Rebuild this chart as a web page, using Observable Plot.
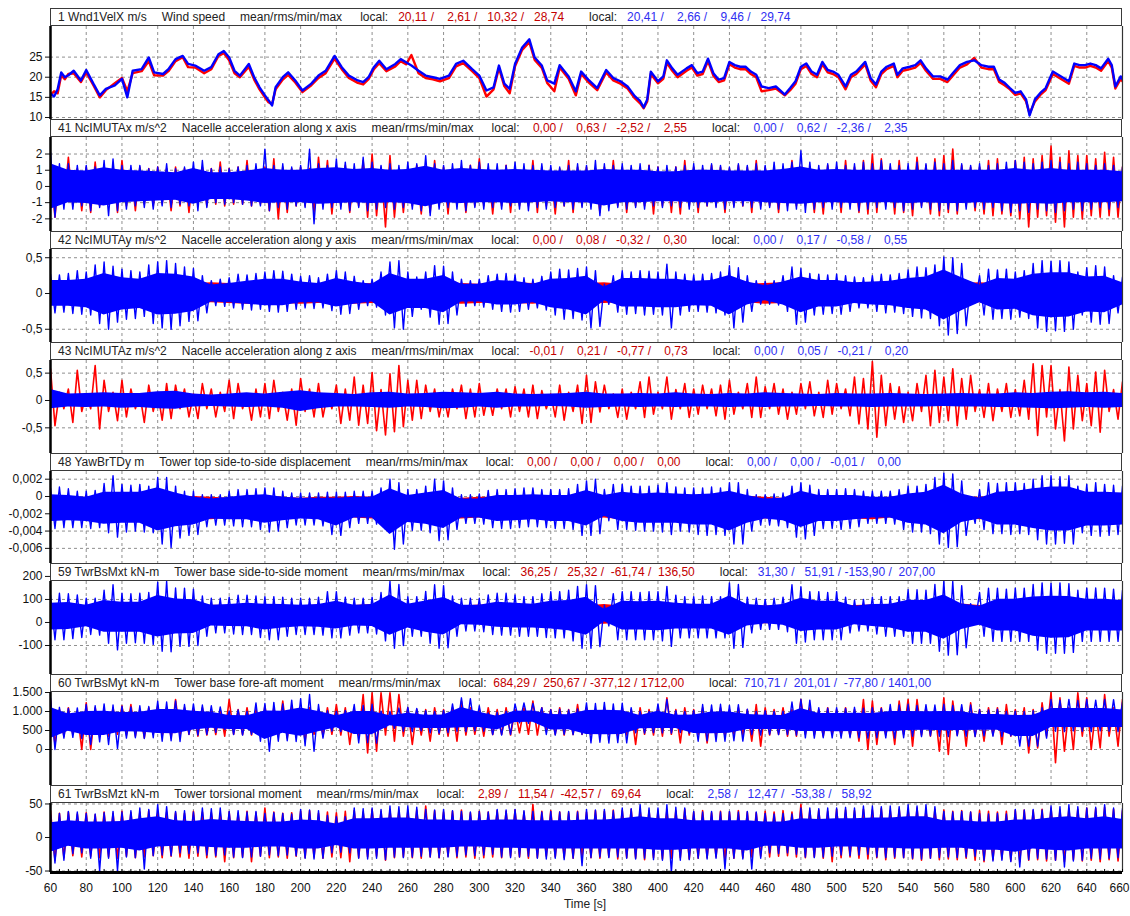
<!DOCTYPE html>
<html>
<head>
<meta charset="utf-8">
<script src="https://cdn.jsdelivr.net/npm/d3@7"></script>
<script src="https://cdn.jsdelivr.net/npm/@observablehq/plot@0.6"></script>
<style>
  html, body { margin: 0; padding: 0; background: #fff; }
  #root { position: relative; width: 1130px; height: 916px; overflow: hidden;
          font-family: "Liberation Sans", Arial, sans-serif; }
  .panel { position: absolute; left: 0; }
  .hdr { position: absolute; left: 50px; width: 1072px; height: 18px; box-sizing: border-box;
         border: 1px solid #3a3a3a; background: #fff; font-size: 12px; line-height: 16px;
         white-space: pre; color: #222; padding-left: 7px; z-index: 5; }
  .hdr .r { color: #c40000; }
  .hdr .b { color: #2e2ef2; }
  #xlabel { position: absolute; top: 897px; left: 0; width: 1170px; text-align: center;
            font-size: 12px; color: #222; }
</style>
</head>
<body>
<div id="root"></div>
<script>
// ---------------- header texts ----------------
const chanNames = ["1 Wnd1VelX m/s", "41 NcIMUTAx m/s^2", "42 NcIMUTAy m/s^2", "43 NcIMUTAz m/s^2",
  "48 YawBrTDy m", "59 TwrBsMxt kN-m", "60 TwrBsMyt kN-m", "61 TwrBsMzt kN-m"];
const chanDescs = ["Wind speed", "Nacelle acceleration along x axis", "Nacelle acceleration along y axis",
  "Nacelle acceleration along z axis", "Tower top side-to-side displacement", "Tower base side-to-side moment",
  "Tower base fore-aft moment", "Tower torsional moment"];
const redStats = [["20,11","2,61","10,32","28,74"], ["0,00","0,63","-2,52","2,55"], ["0,00","0,08","-0,32","0,30"],
  ["-0,01","0,21","-0,77","0,73"], ["0,00","0,00","0,00","0,00"], ["36,25","25,32","-61,74","136,50"],
  ["684,29","250,67","-377,12","1712,00"], ["2,89","11,54","-42,57","69,64"]];
const blueStats = [["20,41","2,66","9,46","29,74"], ["0,00","0,62","-2,36","2,35"], ["0,00","0,17","-0,58","0,55"],
  ["0,00","0,05","-0,21","0,20"], ["0,00","0,00","-0,01","0,00"], ["31,30","51,91","-153,90","207,00"],
  ["710,71","201,01","-77,80","1401,00"], ["2,58","12,47","-53,38","58,92"]];

// ---------------- axis ticks ----------------
const xTicks = [60,80,100,120,140,160,180,200,220,240,260,280,300,320,340,360,380,400,420,440,460,480,500,520,540,560,580,600,620,640,660];
const xGrid = [80,100,120,140,160,180,200,220,240,260,280,300,320,340,360,380,400,420,440,460,480,500,520,540,560,580,600,620,640];
const yTicks = [[10,15,20,25], [-2,-1,0,1,2], [-0.5,0,0.5], [-0.5,0,0.5], [-0.006,-0.004,-0.002,0,0.002],
  [-100,0,100,200], [0,500,1000,1500], [-50,0,50]];
const yTickLabels = [["10","15","20","25"], ["-2","-1","0","1","2"], ["-0,5","0","0,5"], ["-0,5","0","0,5"],
  ["-0,006","-0,004","-0,002","0","0,002"], ["-100","0","100","200"], ["0","500","1.000","1.500"], ["-50","0","50"]];

// ---------------- 1: wind speed (time, blue, red) ----------------
const windT = [60,62,64,66,68,70,73,77,80,84,
 87.6,91,96,100,103,106,111,115,118,123,
 126,130,134,137,141,146,150,154,157,160,
 163,166,171,174,177,180,182,184,186,190,
 193,197,201,206,210,214,219,223,227,232,
 235,238,241,244,248,253,256,259,262,266,
 270,274,278,283,287,291,296,300,304,308,
 311,314,317,320,324,328,331,335,338,342,
 345,350,354,357,361,366,371,375,379,383,
 387,390,392,394,396,400,403,405,408,411,
 416,419,422,425,428,431,434,437,440,443,
 446,449,452,455,458,462,466,471,474,477,
 480,483,486,489,492,495,498,501,505,508,
 511,516,519,522,525,528,532,534,537,541,
 544,547,550,554,558,562,565,569,573,577,
 581,585,588,591,594,597,600,603,606,608,
 611,614,617,621,624,627,630,633,636,639,
 642,645,648,652,654,656,659,660];
const windBlue = [16,15.2,17,21.2,20,20.5,21.6,19.2,21.8,18.4,
 15.5,17.1,18,19.6,15,21.6,22,24.9,21.2,20.8,
 22,24.5,25.3,23.3,22.9,21.6,22.5,25.7,26.5,24.9,
 21.6,20.4,23.3,20,17.5,15.5,14.3,13,17.5,20,
 21.2,19.2,16.7,18.4,20.4,21.6,25.3,22.5,20.4,19.2,
 18.8,20,22.5,24.1,22,23.3,24.5,23.7,22.9,21.6,
 20.4,20,19.6,20.4,23.3,24.1,22,20.4,16.7,17.5,
 22.9,18.4,17.1,23.3,27.4,29.4,24.9,22.9,19.2,18.4,
 23,20.2,16.5,21.4,19.4,17.3,21.8,19.8,19,17.7,
 15.3,14.1,12.5,14.5,21.4,19,20.2,24.2,22.2,20.6,
 22.2,23,21,21.4,24.6,21,19.4,19.8,23.8,23,
 22.6,22.6,21.4,20.6,17.7,17.3,17.7,15.7,17.3,19,
 22.6,23.4,21.4,20.6,23.8,21.8,21.4,20.6,17.7,20.6,
 21.4,23.8,19.8,18.2,21.4,22.6,23.4,20.6,22.2,22.6,
 23,24.2,22.2,20.2,20.2,19.4,21,23,23.8,24.2,
 23,22.6,22.6,19.4,18.6,17.3,16.1,16.5,14.5,10.5,
 14.5,16.1,17.3,21.4,20.6,19.8,19,23.4,23,23,
 23.4,23,22.2,24.6,23,17.7,20.2,19.5];
const windRed = [15.5,16.5,16,20.5,19.5,20.8,21,18.8,21.2,18,
 15,16.8,18.5,19.8,16.5,21,21.5,24,20.5,20.4,
 21.5,24,25,22.5,22.4,21,22,25.3,26,24.2,
 21,20,22.6,19.4,17,15,13.8,13.3,17,19.4,
 20.6,18.7,16.3,18,19.8,21,24.6,22,19.8,18.6,
 18.2,19.5,22,23.5,21.5,22.7,24,23.2,25.5,21,
 19.8,19.5,19,19.8,22.7,23.5,21.5,19.8,15.2,17,
 22.3,17.8,16,22.7,26.8,28.7,24.3,22.3,18.6,16.5,
 22.4,19.6,15.5,20.8,18.8,16.8,21.2,19.2,18.4,17.2,
 14.8,13.5,12.3,14,20.8,18.5,19.6,23.6,21.6,20,
 21.6,22.4,20.4,20.8,24,20.4,18.8,19.2,23.2,22.4,
 22,22,20.8,20,16.5,16.8,17.2,15.5,16.8,18.4,
 22,22.8,20.8,20,23.2,21.2,20.8,20,17,20,
 20.8,23.2,19.2,17.5,20.8,22,22.8,20,21.6,22,
 22.4,23.6,21.6,19.6,19.6,18.8,20.4,22.4,23.2,24.8,
 22.4,22,22,18.8,18,17,15.6,16,14,11,
 14,15.6,16.8,20.8,20,19.2,18.4,22.8,22.4,22.4,
 22.8,22.4,21.6,24,22.4,17.2,19.6,19];

// ---------------- 41: NcIMUTAx ----------------
// dense core (10 s) and spike tips (5 s: peak at t, trough at t+2.5)
const accxCoreHi = [1.4,1.0,0.95,1.15,1.0,0.95,0.9,0.85,1.1,0.85, 0.85,0.95,1.1,1.0,1.0,1.1,1.15,1.05,1.1,1.0,
 1.05,1.25,1.0,1.1,1.05,1.0,1.05,1.0,0.95,0.95, 0.95,1.05,1.0,1.0,0.9,0.9,1.0,1.0,0.95,0.95,
 0.95,1.05,1.2,1.0,1.05,1.0,1.0,1.0,1.0,1.0, 1.0,1.0,1.0,1.0,1.1,1.0,1.1,1.0,1.0,1.0, 0.9];
const accxCoreLo = [-1.4,-1.0,-1.05,-1.2,-1.0,-0.95,-0.9,-0.85,-1.1,-0.8, -0.8,-0.9,-1.05,-1.0,-1.0,-1.1,-1.05,-1.0,-1.05,-1.0,
 -1.05,-1.25,-1.0,-1.05,-1.0,-1.0,-1.05,-1.0,-0.95,-1.0, -1.0,-1.2,-1.0,-1.0,-0.95,-0.95,-1.0,-1.0,-0.95,-0.95,
 -1.0,-1.05,-1.1,-1.0,-1.0,-1.05,-1.0,-1.0,-1.05,-1.0, -1.05,-1.05,-1.0,-1.05,-1.1,-1.05,-1.1,-1.0,-1.0,-1.0, -0.95];
const accxBlueHi = [2.1,1.4,1.4,1.3,1.3,1.2,1.6,1.7,1.3,1.3, 1.3,1.1,1.2,1.4,1.1,1.2,1.5,1.6,1.1,1.2,
 1.1,1.2,1.3,1.4,2.3,1.3,1.4,1.2,1.3,2.3, 1.4,1.3,1.7,1.5,1.4,1.8,1.5,1.3,1.4,1.3,
 1.5,1.4,1.9,1.4,1.3,1.4,1.6,1.3,1.5,1.4, 1.4,1.3,1.5,1.4,1.3,1.4,1.3,1.2,1.3,1.4,
 1.3,1.6,1.4,1.3,1.4,1.3,1.4,1.3,1.2,1.3, 1.2,1.3,1.4,1.3,1.4,1.3,1.2,1.4,1.3,1.4,
 1.3,1.5,1.4,1.5,2.2,1.5,1.3,1.4,1.5,1.3, 1.4,1.5,1.4,1.6,1.4,1.3,1.4,1.5,1.4,1.5,
 1.4,1.6,1.4,1.3,1.4,1.3,1.4,1.5,1.6,1.5, 1.4,1.5,1.6,1.5,1.4,1.5,1.4,1.3,1.4,1.3, 1.2];
const accxBlueLo = [-1.9,-1.4,-1.4,-1.2,-1.5,-1.3,-1.8,-1.5,-1.4,-1.2, -1.3,-1.4,-1.2,-1.3,-1.1,-1.2,-1.5,-1.3,-1.0,-1.1,
 -1.0,-1.1,-1.2,-1.2,-1.5,-1.3,-1.4,-1.2,-1.3,-2.3, -1.4,-1.3,-1.4,-1.5,-1.3,-1.5,-1.4,-1.3,-1.4,-1.3,
 -1.4,-1.5,-1.8,-1.4,-1.3,-1.4,-1.5,-1.3,-1.4,-1.3, -1.4,-1.2,-1.4,-1.5,-1.3,-1.4,-1.3,-1.2,-1.4,-1.3,
 -1.4,-1.8,-1.5,-1.3,-1.4,-1.3,-1.4,-1.2,-1.3,-1.2, -1.3,-1.4,-1.3,-1.2,-1.3,-1.4,-1.3,-1.2,-1.3,-1.4,
 -1.3,-1.4,-1.5,-1.4,-1.6,-1.4,-1.3,-1.4,-1.3,-1.4, -1.5,-1.4,-1.3,-1.4,-1.3,-1.5,-1.4,-1.3,-1.4,-1.5,
 -1.4,-1.5,-1.4,-1.3,-1.4,-1.3,-1.5,-1.6,-1.5,-1.6, -1.4,-1.5,-1.6,-1.5,-1.4,-1.5,-1.4,-1.3,-1.4,-1.3, -1.3];
const accxRedHi = [1.2,1.1,1.8,1.1,1.2,1.5,1.1,1.2,1.6,1.1, 1.2,1.1,1.2,1.1,1.2,1.1,1.1,1.2,1.1,1.5,
 1.1,1.2,1.6,1.1,1.2,1.7,1.2,1.1,1.2,1.1, 1.8,1.6,1.2,1.3,1.1,1.6,2.0,1.2,1.9,1.1,
 1.1,1.3,1.2,1.6,1.2,1.1,1.2,1.3,1.7,1.1, 1.1,1.3,1.2,1.1,1.6,1.2,1.1,1.1,1.6,1.2,
 1.2,1.1,1.2,1.6,1.2,1.1,1.1,1.3,1.2,1.1, 1.2,1.6,1.2,1.1,1.3,1.2,1.1,1.3,1.2,1.6,
 1.2,1.1,1.2,1.6,1.2,1.1,1.1,1.3,1.2,1.6, 1.2,1.6,2.0,1.7,1.2,1.6,1.2,1.8,1.3,1.7,
 1.9,2.3,1.3,1.2,1.2,1.6,1.7,1.2,1.6,1.8, 1.7,1.9,2.5,1.8,2.2,1.9,1.9,1.7,2.1,1.8, 1.2];
const accxRedLo = [-1.9,-1.1,-1.2,-1.5,-1.6,-1.2,-1.1,-1.6,-1.2,-1.5, -1.1,-1.2,-1.1,-1.5,-1.2,-1.6,-1.1,-1.2,-1.1,-1.2,
 -1.1,-1.1,-1.2,-1.1,-1.5,-2.0,-1.6,-1.2,-1.2,-1.6, -1.2,-1.7,-1.2,-1.6,-1.2,-1.9,-1.8,-2.5,-1.9,-1.6,
 -1.2,-1.7,-1.6,-1.2,-1.7,-1.2,-1.6,-1.2,-1.2,-1.7, -1.2,-1.6,-1.2,-1.2,-1.6,-1.2,-1.7,-1.2,-1.6,-1.2,
 -1.2,-1.6,-1.2,-1.2,-1.6,-1.2,-1.2,-1.7,-1.2,-1.6, -1.7,-1.2,-1.6,-1.2,-1.2,-1.6,-1.2,-1.2,-1.6,-1.2,
 -1.2,-1.6,-1.2,-1.2,-1.2,-1.6,-1.7,-1.2,-1.6,-1.2, -1.6,-1.7,-1.6,-1.2,-1.7,-1.6,-1.8,-1.2,-1.7,-1.8,
 -1.6,-1.7,-1.2,-1.5,-1.7,-1.8,-1.7,-1.8,-2.0,-2.5, -1.9,-1.8,-2.2,-2.5,-1.9,-2.0,-1.8,-1.9,-1.8,-1.9, -1.8];

// ---------------- 42: NcIMUTAy ----------------
const accyCoreHi = [0.18,0.18,0.2,0.28,0.22,0.2,0.28,0.27,0.23,0.12, 0.14,0.17,0.2,0.2,0.16,0.14,0.21,0.16,0.13,0.28,
 0.2,0.2,0.25,0.13,0.13,0.18,0.17,0.13,0.2,0.21, 0.24,0.09,0.21,0.21,0.2,0.2,0.17,0.18,0.25,0.16,
 0.11,0.16,0.23,0.18,0.18,0.15,0.16,0.17,0.21,0.23, 0.33,0.22,0.12,0.21,0.2,0.27,0.29,0.29,0.23,0.24, 0.15];
const accyCoreLo = [-0.18,-0.18,-0.2,-0.3,-0.23,-0.21,-0.3,-0.29,-0.25,-0.12, -0.13,-0.15,-0.17,-0.17,-0.13,-0.13,-0.19,-0.15,-0.12,-0.3,
 -0.21,-0.21,-0.27,-0.12,-0.12,-0.16,-0.16,-0.13,-0.2,-0.23, -0.3,-0.1,-0.19,-0.19,-0.2,-0.2,-0.17,-0.18,-0.3,-0.16,
 -0.1,-0.16,-0.27,-0.19,-0.19,-0.14,-0.16,-0.17,-0.21,-0.23, -0.37,-0.24,-0.13,-0.23,-0.22,-0.31,-0.34,-0.33,-0.26,-0.27, -0.16];
const accyBlueHi = [0.27,0.26,0.28,0.32,0.3,0.4,0.44,0.38,0.34,0.32, 0.3,0.4,0.44,0.46,0.42,0.37,0.35,0.25,0.18,0.2,
 0.22,0.27,0.26,0.28,0.3,0.32,0.31,0.27,0.24,0.25, 0.22,0.27,0.32,0.3,0.24,0.18,0.2,0.3,0.44,0.46,
 0.3,0.23,0.3,0.39,0.38,0.3,0.2,0.18,0.2,0.25, 0.27,0.28,0.26,0.22,0.2,0.24,0.3,0.34,0.33,0.35,
 0.37,0.32,0.13,0.25,0.32,0.3,0.32,0.31,0.3,0.41, 0.3,0.27,0.26,0.27,0.28,0.3,0.39,0.36,0.25,0.18,
 0.17,0.18,0.25,0.37,0.35,0.28,0.27,0.26,0.27,0.25, 0.23,0.22,0.25,0.27,0.26,0.28,0.33,0.37,0.36,0.4,
 0.51,0.5,0.42,0.13,0.25,0.34,0.33,0.34,0.3,0.32, 0.42,0.46,0.45,0.46,0.44,0.3,0.36,0.39,0.37,0.25, 0.23];
const accyBlueLo = [-0.27,-0.26,-0.28,-0.29,-0.3,-0.42,-0.5,-0.4,-0.36,-0.35, -0.32,-0.42,-0.48,-0.5,-0.45,-0.39,-0.38,-0.27,-0.17,-0.18,
 -0.2,-0.22,-0.23,-0.22,-0.25,-0.26,-0.25,-0.22,-0.2,-0.21, -0.2,-0.24,-0.29,-0.28,-0.22,-0.17,-0.19,-0.3,-0.48,-0.5,
 -0.32,-0.22,-0.33,-0.43,-0.42,-0.3,-0.18,-0.17,-0.19,-0.22, -0.25,-0.26,-0.25,-0.22,-0.2,-0.23,-0.3,-0.36,-0.35,-0.37,
 -0.48,-0.46,-0.15,-0.26,-0.29,-0.28,-0.3,-0.29,-0.3,-0.48, -0.3,-0.25,-0.25,-0.26,-0.27,-0.3,-0.48,-0.4,-0.25,-0.15,
 -0.15,-0.16,-0.25,-0.43,-0.4,-0.3,-0.29,-0.28,-0.29,-0.25, -0.2,-0.2,-0.25,-0.27,-0.26,-0.28,-0.32,-0.34,-0.35,-0.45,
 -0.58,-0.56,-0.45,-0.13,-0.3,-0.36,-0.35,-0.36,-0.33,-0.35, -0.48,-0.53,-0.52,-0.53,-0.5,-0.3,-0.4,-0.43,-0.42,-0.27, -0.25];
const accyRedHi = [0.13,0.14,0.15,0.14,0.13,0.15,0.14,0.13,0.14,0.15, 0.14,0.13,0.15,0.14,0.13,0.14,0.15,0.13,0.14,0.15,
 0.13,0.14,0.15,0.14,0.13,0.14,0.15,0.14,0.13,0.15, 0.14,0.15,0.13,0.14,0.15,0.14,0.13,0.14,0.15,0.13,
 0.14,0.15,0.14,0.13,0.15,0.14,0.13,0.14,0.15,0.14, 0.13,0.14,0.15,0.14,0.13,0.15,0.14,0.13,0.14,0.15, 0.14];
const accyRedLo = [-0.13,-0.15,-0.14,-0.13,-0.15,-0.14,-0.13,-0.14,-0.15,-0.13, -0.14,-0.15,-0.13,-0.14,-0.15,-0.14,-0.13,-0.15,-0.14,-0.13,
 -0.15,-0.14,-0.13,-0.15,-0.14,-0.13,-0.14,-0.15,-0.13,-0.14, -0.15,-0.14,-0.13,-0.15,-0.14,-0.13,-0.14,-0.15,-0.14,-0.13,
 -0.15,-0.14,-0.13,-0.14,-0.15,-0.13,-0.14,-0.15,-0.14,-0.13, -0.14,-0.15,-0.13,-0.14,-0.15,-0.14,-0.13,-0.15,-0.14,-0.13, -0.14];

// ---------------- 43: NcIMUTAz ----------------
const acczBlueHi = [0.2,0.12,0.13,0.14,0.13,0.13,0.16,0.17,0.12,0.1, 0.12,0.14,0.12,0.15,0.18,0.14,0.13,0.11,0.14,0.15,
 0.12,0.13,0.15,0.14,0.13,0.15,0.12,0.11,0.12,0.13, 0.15,0.12,0.12,0.13,0.12,0.14,0.12,0.11,0.13,0.12,
 0.14,0.13,0.12,0.11,0.13,0.12,0.12,0.13,0.12,0.11, 0.12,0.13,0.12,0.12,0.14,0.13,0.15,0.16,0.14,0.15, 0.13];
const acczBlueLo = [-0.15,-0.12,-0.13,-0.12,-0.14,-0.13,-0.15,-0.16,-0.12,-0.11, -0.12,-0.13,-0.12,-0.14,-0.2,-0.15,-0.12,-0.12,-0.13,-0.14,
 -0.12,-0.13,-0.15,-0.14,-0.12,-0.14,-0.12,-0.12,-0.11,-0.12, -0.14,-0.13,-0.12,-0.13,-0.12,-0.13,-0.12,-0.12,-0.13,-0.12,
 -0.13,-0.12,-0.12,-0.11,-0.12,-0.12,-0.13,-0.12,-0.12,-0.12, -0.11,-0.12,-0.12,-0.13,-0.13,-0.14,-0.15,-0.14,-0.13,-0.14, -0.13];
const acczRedHi = [0.58,0.15,0.21,0.55,0.12,0.64,0.37,0.15,0.37,0.21, 0.12,0.28,0.15,0.31,0.28,0.21,0.12,0.31,0.21,0.15,
 0.37,0.31,0.12,0.21,0.31,0.37,0.15,0.21,0.4,0.21, 0.31,0.12,0.28,0.21,0.43,0.28,0.51,0.2,0.49,0.64,
 0.37,0.37,0.28,0.21,0.12,0.21,0.28,0.21,0.31,0.12, 0.21,0.21,0.25,0.21,0.28,0.18,0.12,0.28,0.15,0.28,
 0.46,0.34,0.28,0.12,0.21,0.15,0.34,0.43,0.15,0.43, 0.2,0.31,0.21,0.28,0.21,0.28,0.37,0.15,0.31,0.43,
 0.25,0.31,0.21,0.15,0.31,0.34,0.15,0.37,0.31,0.21, 0.43,0.4,0.71,0.46,0.31,0.25,0.15,0.31,0.46,0.55,
 0.43,0.58,0.4,0.46,0.2,0.31,0.21,0.31,0.2,0.37, 0.67,0.64,0.64,0.2,0.61,0.46,0.31,0.52,0.55,0.2, 0.34];
const acczRedLo = [-0.46,-0.15,-0.4,-0.2,-0.15,-0.52,-0.2,-0.37,-0.3,-0.15, -0.4,-0.2,-0.36,-0.33,-0.15,-0.3,-0.33,-0.15,-0.3,-0.2,
 -0.33,-0.15,-0.36,-0.3,-0.33,-0.2,-0.36,-0.45,-0.2,-0.3, -0.3,-0.15,-0.42,-0.36,-0.45,-0.42,-0.55,-0.63,-0.57,-0.48,
 -0.36,-0.33,-0.2,-0.3,-0.3,-0.15,-0.33,-0.3,-0.27,-0.27, -0.15,-0.3,-0.2,-0.3,-0.33,-0.15,-0.3,-0.36,-0.2,-0.42,
 -0.4,-0.21,-0.15,-0.31,-0.34,-0.15,-0.31,-0.25,-0.15,-0.34, -0.15,-0.31,-0.25,-0.15,-0.28,-0.34,-0.25,-0.15,-0.31,-0.31,
 -0.15,-0.25,-0.34,-0.25,-0.15,-0.28,-0.31,-0.25,-0.15,-0.28, -0.43,-0.52,-0.67,-0.46,-0.34,-0.4,-0.37,-0.2,-0.46,-0.4,
 -0.37,-0.46,-0.34,-0.2,-0.31,-0.37,-0.2,-0.31,-0.28,-0.34, -0.64,-0.3,-0.52,-0.74,-0.52,-0.37,-0.46,-0.58,-0.2,-0.34, -0.4];

// ---------------- 48: YawBrTDy ----------------
const dyCoreHi = [0.0002,0.0001,-0.0001,0.0005,0.0005,0.0005,0.001,0.0004,-0.0001,-0.0003, -0.0001,0.0001,0.0002,-0.0001,-0.0002,-0.0002,-0.0002,-0.0001,-0.0001,0.0009,
 0.0001,0.0004,0.0007,-0.0003,-0.0003,0.0001,0.0001,0.0002,0.0001,0.0001, 0.0007,0.0001,0.0005,0.0003,0.0004,0.0003,0.0002,0.0003,0.0006,0.0001,
 -0.0003,-0.0002,0.0006,0.0001,0.0001,0.0001,-0.0001,-0.0001,0.0003,0.0005, 0.0013,0.0003,-0.0002,0.0005,0.0006,0.0009,0.0011,0.0011,0.0005,0.0005, 0.0004];
const dyCoreLo = [-0.0029,-0.0028,-0.0029,-0.0032,-0.0031,-0.0031,-0.004,-0.0035,-0.0033,-0.0026, -0.0027,-0.0027,-0.0031,-0.0028,-0.0026,-0.0027,-0.0034,-0.0025,-0.0025,-0.0044,
 -0.003,-0.0032,-0.0037,-0.0025,-0.0025,-0.0029,-0.0028,-0.0027,-0.0029,-0.0029, -0.0034,-0.0023,-0.0029,-0.0031,-0.0031,-0.0031,-0.0033,-0.0033,-0.004,-0.0031,
 -0.0026,-0.0028,-0.0036,-0.0029,-0.0029,-0.0027,-0.0025,-0.0025,-0.0031,-0.0033, -0.0043,-0.003,-0.0026,-0.0033,-0.0033,-0.0037,-0.004,-0.004,-0.0034,-0.0034, -0.0033];
const dyBlueHi = [0.001,0.0011,0.0009,0.0006,0.0006,0.0007,0.0015,0.0024,0.0014,0.0013, 0.0014,0.0012,0.0022,0.0022,0.0012,0.0006,0.0006,0.0002,0.0002,0.0002,
 0.0006,0.0008,0.0008,0.0009,0.001,0.001,0.0006,0.0004,0.0004,0.0004, 0.0004,0.0005,0.0005,0.0005,0.0006,0.0006,0.0006,0.001,0.002,0.0016,
 0.0008,0.0008,0.0012,0.002,0.0018,0.001,0.0002,0.0002,0.0003,0.0007, 0.0008,0.0008,0.0009,0.001,0.001,0.0008,0.0008,0.0008,0.0009,0.0014,
 0.0018,0.002,0.0008,0.0014,0.0014,0.0012,0.0012,0.0012,0.0013,0.0016, 0.0011,0.001,0.001,0.001,0.0011,0.001,0.0016,0.0016,0.0008,0.0002,
 0.0002,0.0003,0.0004,0.0012,0.0016,0.0013,0.0008,0.0008,0.0008,0.0009, 0.0008,0.0006,0.0006,0.0006,0.0006,0.0008,0.0012,0.0012,0.0014,0.0022,
 0.0027,0.0026,0.0018,-0.0006,0.0008,0.0016,0.0015,0.0016,0.0016,0.0015, 0.002,0.0024,0.0024,0.0023,0.0024,0.0012,0.0014,0.0016,0.0014,0.0013, 0.0012];
const dyBlueLo = [-0.0037,-0.0036,-0.0036,-0.0036,-0.0037,-0.0036,-0.0042,-0.0047,-0.0041,-0.004, -0.0041,-0.0042,-0.0055,-0.0059,-0.0048,-0.0045,-0.0044,-0.0035,-0.0033,-0.0033,
 -0.0034,-0.0035,-0.0035,-0.0038,-0.0041,-0.004,-0.0036,-0.0033,-0.0033,-0.0033, -0.0034,-0.0044,-0.0045,-0.0036,-0.0031,-0.0031,-0.0032,-0.0038,-0.0061,-0.0055,
 -0.0039,-0.0039,-0.0042,-0.0051,-0.005,-0.0038,-0.0031,-0.0031,-0.0032,-0.0036, -0.0037,-0.0037,-0.0036,-0.0035,-0.0035,-0.0036,-0.0037,-0.0037,-0.0038,-0.0045,
 -0.0045,-0.0043,-0.0028,-0.0038,-0.0038,-0.0039,-0.004,-0.004,-0.0041,-0.0044, -0.004,-0.0041,-0.0044,-0.0045,-0.0044,-0.0045,-0.0055,-0.0055,-0.004,-0.0033,
 -0.0033,-0.0034,-0.0036,-0.0047,-0.0049,-0.0045,-0.0037,-0.0037,-0.0038,-0.0037, -0.0035,-0.0031,-0.0031,-0.0031,-0.0032,-0.0038,-0.0041,-0.0041,-0.0043,-0.0055,
 -0.0059,-0.0058,-0.0045,-0.0031,-0.0038,-0.0043,-0.0043,-0.0044,-0.0043,-0.0044, -0.005,-0.0055,-0.0055,-0.0054,-0.0055,-0.0042,-0.0045,-0.0046,-0.0045,-0.0044, -0.0044];
const dyRedHi = [-0.0001,-0.0002,-0.0001,0,-0.0001,-0.0002,-0.0001,-0.0001,0,-0.0001, -0.0002,-0.0001,0,-0.0001,-0.0002,-0.0001,-0.0001,0,-0.0001,-0.0002,
 -0.0001,0,-0.0001,-0.0002,-0.0001,-0.0001,0,-0.0001,-0.0002,-0.0001, 0,-0.0001,-0.0002,-0.0001,-0.0001,0,-0.0001,-0.0002,-0.0001,0,
 -0.0001,-0.0002,-0.0001,-0.0001,0,-0.0001,-0.0002,-0.0001,0,-0.0001, -0.0002,-0.0001,-0.0001,0,-0.0001,-0.0002,-0.0001,0,-0.0001,-0.0002, -0.0001];
const dyRedLo = [-0.0026,-0.0025,-0.0027,-0.0026,-0.0025,-0.0026,-0.0027,-0.0025,-0.0026,-0.0027, -0.0025,-0.0026,-0.0027,-0.0026,-0.0025,-0.0026,-0.0027,-0.0025,-0.0026,-0.0027,
 -0.0026,-0.0025,-0.0027,-0.0026,-0.0025,-0.0026,-0.0027,-0.0025,-0.0026,-0.0027, -0.0026,-0.0025,-0.0027,-0.0026,-0.0025,-0.0026,-0.0027,-0.0025,-0.0026,-0.0027,
 -0.0026,-0.0025,-0.0027,-0.0026,-0.0025,-0.0026,-0.0027,-0.0025,-0.0026,-0.0027, -0.0026,-0.0025,-0.0027,-0.0026,-0.0025,-0.0026,-0.0027,-0.0025,-0.0026,-0.0027, -0.0026];

// ---------------- 59: TwrBsMxt ----------------
const mxtCoreHi = [84,87,75,96,88,88,117,102,99,75, 78,83,79,78,75,78,92,75,78,119,
 79,93,108,75,75,88,84,79,92,96, 110,57,92,90,92,83,79,79,115,78,
 72,78,105,92,92,70,78,79,97,96, 119,80,70,101,101,111,114,113,101,101, 96];
const mxtCoreLo = [-33,-30,-19,-42,-42,-42,-63,-50,-48,-15, -18,-19,-33,-24,-19,-21,-28,-15,-18,-55,
 -24,-42,-54,-10,-12,-21,-24,-24,-28,-36, -55,3,-33,-33,-36,-28,-28,-28,-55,-15,
 -6,-12,-39,-33,-33,-10,-18,-24,-42,-42, -73,-30,-12,-37,-37,-60,-68,-66,-37,-37, -37];
const mxtBlueHi = [120,127,125,120,105,105,140,164,127,125, 127,130,175,179,150,149,145,115,105,105,
 110,119,119,115,112,112,110,105,105,105, 110,134,134,110,105,105,110,130,179,165,
 112,112,135,164,160,115,105,105,105,120, 127,127,120,112,112,125,134,134,140,157,
 164,160,75,125,134,134,130,134,134,157, 119,112,112,115,112,112,172,165,110,105,
 100,105,110,164,155,134,134,130,134,110, 97,100,110,112,112,112,142,142,140,165,
 179,178,160,82,130,149,149,145,149,149, 165,172,170,172,168,140,149,150,149,145, 140];
const mxtBlueLo = [-75,-75,-70,-65,-52,-55,-90,-119,-90,-88, -90,-95,-125,-127,-104,-104,-100,-60,-45,-45,
 -50,-52,-52,-65,-75,-75,-60,-52,-52,-52, -55,-67,-67,-55,-45,-45,-50,-80,-112,-100,
 -60,-60,-90,-112,-110,-60,-37,-37,-40,-52, -55,-55,-60,-60,-60,-65,-67,-67,-80,-112,
 -112,-105,-15,-75,-75,-75,-75,-75,-80,-104, -67,-67,-67,-67,-67,-67,-112,-108,-45,-30,
 -30,-30,-40,-90,-85,-75,-75,-75,-75,-45, -37,-37,-50,-60,-60,-60,-90,-90,-90,-125,
 -142,-140,-110,0,-60,-82,-82,-82,-82,-82, -120,-134,-134,-134,-130,-82,-82,-82,-82,-82, -82];
const mxtRedHi = [72,75,70,78,74,71,76,73,70,75, 74,71,77,73,72,76,70,74,78,73,
 71,75,73,70,76,74,72,75,71,77, 73,78,72,74,71,75,73,76,70,74,
 72,75,78,73,71,74,76,72,75,73, 71,80,74,72,75,73,71,76,74,72, 75];
const mxtRedLo = [-4,-2,-6,-3,0,-5,-2,-4,-6,-1, -3,-5,-2,-4,0,-6,-3,-1,-5,-2,
 -4,-6,-3,0,-5,-2,-4,-1,-6,-3, -5,-8,-2,-4,-6,-3,0,-5,-2,-4,
 -6,-3,-1,-5,-2,-4,-6,-3,0,-5, -2,-8,-4,-6,-3,-1,-5,-2,-4,-6, -3];

// ---------------- 60: TwrBsMyt ----------------
const mytCoreHi = [1104,936,998,1008,972,978,1051,1056,1008,978, 893,888,1014,1008,1092,998,888,998,1002,888,
 954,900,906,1104,978,876,1008,1014,918,912, 1025,1032,1020,894,1008,900,906,990,984,924,
 900,894,1078,948,948,954,948,998,1002,996, 1002,996,920,924,894,900,1078,1080,1078,1080, 1038];
const mytCoreLo = [288,480,367,367,468,462,419,414,516,558, 525,528,262,426,348,468,570,393,390,624,
 570,551,555,570,577,516,709,714,516,522, 393,390,393,546,551,555,419,414,426,525,
 528,525,472,474,468,472,474,468,498,504, 492,498,504,504,341,341,577,582,570,577, 577];
const mytBlueHi = [1360,1110,1080,1096,1184,1150,1200,1170,1140,1120, 1150,1130,1272,1250,1280,1184,1200,1170,1150,1120,
 1009,1040,1000,1228,1210,1240,1200,1300,1340,1447, 1184,1020,1000,1030,1184,1160,1190,1010,1000,1090,
 1110,1080,1020,1000,1030,1200,1360,1340,1150,960, 980,1010,1200,1228,1210,1100,1050,1060,1040,1070,
 1228,1210,1240,1200,1220,1100,1010,1000,1200,1316, 1020,1000,1030,1184,1170,1190,1160,1180,1060,1000,
 1020,1000,1010,1250,1316,1300,1100,1090,1100,1080, 1110,1090,1100,1080,1184,1170,1190,1160,1180,1170,
 1190,1160,1180,1170,1053,1040,1060,1000,1010,1000, 1020,1100,1316,1300,1320,1290,1316,1300,1320,1310, 1250];
const mytBlueLo = [0,300,320,290,132,200,132,30,300,310, 290,310,219,230,210,395,380,400,450,526,
 395,380,400,219,-44,219,230,210,100,-44, 300,482,470,490,175,180,170,570,560,482,
 470,490,439,430,445,482,470,490,482,395, 380,400,702,690,710,395,380,400,390,395,
 175,190,170,180,175,439,430,445,439,430, 445,430,219,230,210,219,230,220,395,380,
 400,390,395,380,307,300,310,307,300,310, 307,300,310,307,300,310,350,340,360,350,
 340,360,350,340,360,350,340,360,88,90, 88,300,482,470,490,482,470,490,482,470, 482];
const mytRedHi = [1300,1050,1100,1000,1228,1100,1050,1100,1150,1184, 1050,1100,1150,1100,1316,1100,1050,1100,1000,1050,
 1316,1050,1100,1050,1150,1100,1272,1100,1050,1100, 1050,1100,1184,1100,1050,1447,1490,1490,1490,1447,
 1100,1053,1050,1100,1050,1100,1272,1100,1050,1100, 1050,1100,1050,1100,1272,1100,1050,1100,1050,1184,
 1100,1050,1100,1050,1100,1050,1100,1050,1100,1360, 1050,1100,1050,1100,1050,1100,1050,1100,1050,1184,
 1100,1050,1100,1050,1316,1100,1050,1100,1050,1100, 1050,1316,1272,1100,1050,1272,1316,1316,1100,1050,
 1360,1272,1100,1228,1050,1100,1100,1184,1050,1100, 1050,1228,1500,1360,1100,1490,1360,1050,1447,1100, 1316];
const mytRedLo = [132,350,400,0,0,380,350,400,380,350, 307,400,350,307,380,400,350,380,395,350,
 400,395,380,350,400,380,307,350,219,400, 350,400,380,132,350,-88,-44,380,219,350,
 132,380,219,400,350,219,380,400,350,395, 400,380,440,400,380,482,400,380,395,400,
 395,380,400,350,380,132,400,380,350,400, 175,380,400,175,380,350,400,380,219,88,
 380,400,350,350,400,380,350,400,380,350, 219,0,132,380,132,400,88,380,350,-44,
 -130,380,88,350,219,380,132,350,380,-88, 44,350,-350,-44,0,350,0,44,350,88, 44];

// ---------------- 61: TwrBsMzt ----------------
const mztCoreHi = [22,25,23,23,24,28,31,25,24,27, 25,24,23,23,26,25,20,28,28,29,
 29,26,26,25,25,26,26,25,25,25, 26,26,28,31,28,28,25,25,25,25,
 23,23,28,27,28,28,29,29,31,31, 25,25,23,23,26,26,29,31,28,31, 27];
const mztCoreLo = [-22,-13,-17,-17,-16,-20,-14,-13,-13,-15, -16,-16,-14,-14,-17,-17,-12,-17,-17,-16,
 -16,-16,-16,-14,-14,-16,-16,-17,-17,-17, -17,-17,-17,-17,-19,-19,-17,-17,-17,-20,
 -13,-13,-16,-16,-14,-14,-16,-16,-17,-17, -16,-16,-19,-19,-22,-17,-19,-20,-17,-17, -17];
const mztBlueHi = [34,36,39,38,36,35,37,39,38,40, 44,42,49,46,39,40,38,44,43,44,
 39,40,38,39,36,37,36,35,42,41, 40,33,31,31,44,43,44,42,47,46,
 47,45,42,41,42,40,39,38,39,38, 42,41,42,40,39,38,39,38,39,38,
 42,41,42,40,44,43,49,44,44,49, 45,44,39,38,39,38,39,38,39,38,
 36,35,36,35,44,44,43,44,44,45, 44,47,47,46,47,46,49,47,49,46,
 39,38,39,38,36,35,36,35,42,41, 42,41,47,46,49,46,44,45,49,44, 43];
const mztBlueLo = [-38,-34,-24,-23,-31,-49,-31,-49,-29,-30, -47,-27,-26,-27,-23,-24,-23,-26,-27,-26,
 -29,-30,-29,-28,-26,-27,-26,-27,-31,-32, -31,-23,-22,-23,-31,-32,-31,-33,-29,-30,
 -29,-28,-29,-30,-29,-28,-26,-27,-26,-25, -29,-30,-29,-28,-31,-32,-31,-33,-31,-42,
 -30,-29,-30,-29,-31,-32,-31,-33,-34,-52, -34,-33,-31,-32,-31,-47,-31,-32,-47,-31,
 -23,-24,-23,-25,-29,-30,-29,-28,-26,-27, -26,-25,-29,-30,-29,-30,-31,-32,-31,-30,
 -29,-30,-29,-28,-34,-35,-34,-36,-44,-33, -31,-32,-34,-44,-35,-34,-31,-32,-31,-30, -31];
const mztRedHi = [40,36,38,35,37,34,38,36,39,37, 38,40,36,38,37,36,39,38,37,36,
 38,36,39,37,44,38,36,37,39,40, 36,38,37,39,40,38,42,39,41,40,
 39,41,47,40,38,39,41,37,39,38, 40,39,41,38,49,39,40,38,37,39,
 38,40,39,41,40,42,41,40,39,41, 40,42,38,40,37,39,38,40,38,37,
 39,38,40,38,49,40,41,39,42,41, 40,42,41,43,40,42,41,44,40,42,
 41,39,40,38,40,39,38,39,40,41, 40,42,44,41,43,42,44,43,45,42, 40];
const mztRedLo = [-34,-30,-27,-29,-28,-30,-29,-31,-28,-30, -29,-27,-30,-28,-29,-31,-28,-30,-29,-36,
 -30,-29,-36,-28,-30,-29,-31,-28,-30,-29, -31,-29,-30,-36,-30,-29,-28,-34,-30,-29,
 -30,-31,-29,-30,-28,-30,-29,-31,-30,-29, -30,-28,-29,-31,-30,-28,-29,-30,-31,-29,
 -30,-31,-29,-32,-30,-31,-33,-30,-32,-31, -30,-32,-31,-30,-29,-33,-31,-30,-29,-28,
 -29,-28,-27,-29,-30,-29,-31,-36,-30,-29, -31,-32,-30,-33,-31,-30,-32,-34,-31,-33,
 -32,-33,-31,-34,-36,-33,-32,-35,-36,-34, -33,-35,-34,-36,-33,-35,-34,-36,-33,-35, -34];

// ---------------- helpers ----------------
function check(name, arr, n) { if (arr.length !== n) throw new Error(name + " length " + arr.length + " != " + n); }
check("windBlue", windBlue, windT.length); check("windRed", windRed, windT.length);
Object.entries({accxBlueHi,accxBlueLo,accxRedHi,accxRedLo,accyBlueHi,accyBlueLo,acczRedHi,acczRedLo,
  dyBlueHi,dyBlueLo,mxtBlueHi,mxtBlueLo,mytBlueHi,mytBlueLo,mytRedHi,mytRedLo,mztBlueHi,mztBlueLo,mztRedHi,mztRedLo})
  .forEach(([n, a]) => check(n, a, 121));
Object.entries({accxCoreHi,accxCoreLo,accyCoreHi,accyCoreLo,accyRedHi,accyRedLo,acczBlueHi,acczBlueLo,
  dyCoreHi,dyCoreLo,dyRedHi,dyRedLo,mxtCoreHi,mxtCoreLo,mxtRedHi,mxtRedLo,mytCoreHi,mytCoreLo,mztCoreHi,mztCoreLo})
  .forEach(([n, a]) => check(n, a, 61));

const band = (hi, lo, step) => hi.map((h, i) => ({t: 60 + step * i, hi: h, lo: lo[i]}));
const zig = (hi, lo) => { const out = []; hi.forEach((h, i) => { out.push({t: 60 + 5 * i, v: h}); out.push({t: 62.5 + 5 * i, v: lo[i]}); }); return out; };

const BLUE = "#0000ff", RED = "#ff0000";
const panels = [
  {top: 26,  bottom: 119, domain: [9.5, 32.6]},
  {top: 137, bottom: 231, domain: [-2.78, 3.02],       core: band(accxCoreHi, accxCoreLo, 10), blueZig: zig(accxBlueHi, accxBlueLo), redZig: zig(accxRedHi, accxRedLo)},
  {top: 249, bottom: 342, domain: [-0.685, 0.615],     core: band(accyCoreHi, accyCoreLo, 10), blueZig: zig(accyBlueHi, accyBlueLo), redBand: band(accyRedHi, accyRedLo, 10)},
  {top: 360, bottom: 453, domain: [-0.969, 0.731],     core: band(acczBlueHi, acczBlueLo, 10), redZig: zig(acczRedHi, acczRedLo)},
  {top: 471, bottom: 563, domain: [-0.00775, 0.00289], core: band(dyCoreHi, dyCoreLo, 10), blueZig: zig(dyBlueHi, dyBlueLo), redBand: band(dyRedHi, dyRedLo, 10)},
  {top: 581, bottom: 674, domain: [-226, 178],         core: band(mxtCoreHi, mxtCoreLo, 10), blueZig: zig(mxtBlueHi, mxtBlueLo), redBand: band(mxtRedHi, mxtRedLo, 10)},
  {top: 692, bottom: 785, domain: [-947, 1500],        core: band(mytCoreHi, mytCoreLo, 10), blueZig: zig(mytBlueHi, mytBlueLo), redZig: zig(mytRedHi, mytRedLo)},
  {top: 803, bottom: 872, domain: [-52.2, 50.7],       core: band(mztCoreHi, mztCoreLo, 10), blueZig: zig(mztBlueHi, mztBlueLo), redZig: zig(mztRedHi, mztRedLo)}
];

const root = document.getElementById("root");
const windRows = windT.map((t, i) => ({t, blue: windBlue[i], red: windRed[i]}));
const minorX = d3.range(60, 661, 5);

panels.forEach((p, k) => {
  const last = k === panels.length - 1;
  const mt = 12, mb = last ? 40 : 12;
  const [y0, y1] = p.domain;
  const labelMap = new Map(yTicks[k].map((v, i) => [v, yTickLabels[k][i]]));
  const gridY = yTicks[k].filter(v => v > y0 && v < y1);
  const marks = [
    Plot.ruleX(xGrid, {stroke: "#8f8f8f", strokeDasharray: "3,3", strokeWidth: 1}),
    Plot.ruleY(gridY, {stroke: "#8f8f8f", strokeDasharray: "3,3", strokeWidth: 1})
  ];
  if (k === 0) {
    marks.push(Plot.line(windRows, {x: "t", y: "red", stroke: RED, strokeWidth: 2.4, clip: true}));
    marks.push(Plot.line(windRows, {x: "t", y: "blue", stroke: BLUE, strokeWidth: 2.4, clip: true}));
  } else {
    if (p.redBand) marks.push(Plot.areaY(p.redBand, {x: "t", y1: "lo", y2: "hi", fill: RED, clip: true}));
    if (p.redZig) marks.push(Plot.line(p.redZig, {x: "t", y: "v", stroke: RED, strokeWidth: 1.6, clip: true}));
    marks.push(Plot.areaY(p.core, {x: "t", y1: "lo", y2: "hi", fill: BLUE, clip: true}));
    if (p.blueZig) marks.push(Plot.line(p.blueZig, {x: "t", y: "v", stroke: BLUE, strokeWidth: 1.4, clip: true}));
  }
  marks.push(Plot.ruleX([660], {stroke: "#333", strokeWidth: 1.2}));
  marks.push(Plot.ruleX([60], {stroke: "#000", strokeWidth: 2.5}));
  if (last) {
    marks.push(Plot.ruleX(minorX, {y1: y0, y2: y0 + 4.5, stroke: "#000", strokeWidth: 1}));
    marks.push(Plot.ruleY([y0], {stroke: "#000", strokeWidth: 3}));
    marks.push(Plot.text(xTicks.filter(d => d < 660), {x: d => d, y: () => y0, dy: 16, text: d => String(d), fontSize: 12, fill: "#111"}));
    marks.push(Plot.text([660], {x: d => d, y: () => y0, dy: 16, dx: -3, text: d => String(d), fontSize: 12, fill: "#111"}));
  }
  const svg = Plot.plot({
    width: 1130,
    height: (p.bottom - p.top) + mt + mb,
    marginLeft: 50, marginRight: 8, marginTop: mt, marginBottom: mb,
    style: {background: "transparent", fontSize: "12px", fontFamily: "'Liberation Sans', Arial, sans-serif", color: "#111", overflow: "visible"},
    x: {domain: [60, 660], axis: null},
    y: {domain: p.domain, ticks: yTicks[k], tickFormat: d => labelMap.has(d) ? labelMap.get(d) : "", tickSize: 5, tickPadding: 3, label: null},
    marks
  });
  const wrap = document.createElement("div");
  wrap.className = "panel";
  wrap.style.top = (p.top - mt) + "px";
  wrap.appendChild(svg);
  root.appendChild(wrap);
});

// headers (drawn on top)
const pad7 = s => s.padStart(7, " ");
panels.forEach((p, k) => {
  const h = document.createElement("div");
  h.className = "hdr";
  h.style.top = (p.top - 18) + "px";
  const fmt = arr => arr.map((v, i) => pad7(v) + (i < 3 ? " /" : "")).join(" ");
  h.innerHTML = `<span>${chanNames[k]}</span><span style="margin-left:15px">${chanDescs[k]}</span>` +
    `<span style="margin-left:15px">mean/rms/min/max</span><span style="margin-left:18px">local: </span>` +
    `<span class="r">${fmt(redStats[k])}</span><span style="margin-left:25px">local: </span><span class="b">${fmt(blueStats[k])}</span>`;
  root.appendChild(h);
});

const xl = document.createElement("div");
xl.id = "xlabel";
xl.textContent = "Time [s]";
root.appendChild(xl);
</script>
</body>
</html>
